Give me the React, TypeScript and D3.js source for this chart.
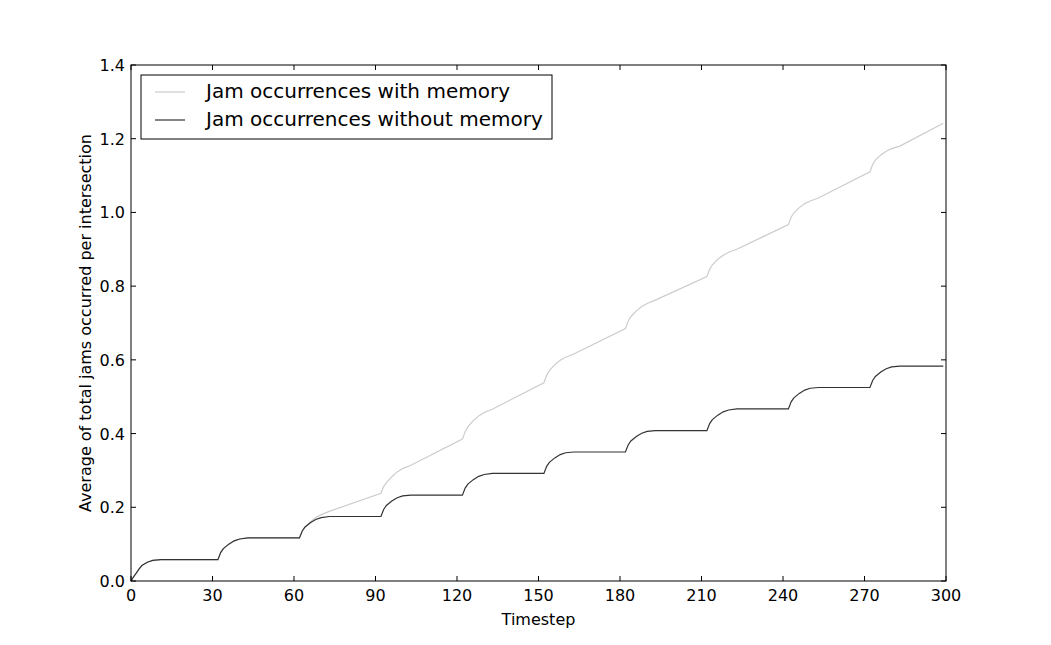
import * as d3 from 'd3';

const X_TICKS = [0, 30, 60, 90, 120, 150, 180, 210, 240, 270, 300];
const Y_TICKS = [0, 0.2, 0.4, 0.6, 0.8, 1.0, 1.2, 1.4];

const FIRST_STEP: [number, number][] = [
  [0, 0], [1, 0.012], [2, 0.022], [3, 0.033], [4, 0.042], [6, 0.051], [8, 0.056], [11, 0.058],
  [32, 0.058], [33, 0.077], [34, 0.088], [36, 0.1], [38, 0.109], [40, 0.114], [43, 0.117], [62, 0.117],
];

const withoutMemory: [number, number][] = [
  ...FIRST_STEP,
  [63, 0.135], [64, 0.146], [66, 0.158], [68, 0.167], [70, 0.172], [73, 0.175], [92, 0.175],
  [93, 0.194], [94, 0.205], [96, 0.217], [98, 0.226], [100, 0.231], [103, 0.233], [122, 0.233],
  [123, 0.252], [124, 0.263], [126, 0.275], [128, 0.284], [130, 0.289], [133, 0.292], [152, 0.292],
  [153, 0.311], [154, 0.322], [156, 0.334], [158, 0.343], [160, 0.348], [163, 0.35], [182, 0.35],
  [183, 0.369], [184, 0.38], [186, 0.392], [188, 0.401], [190, 0.406], [193, 0.408], [212, 0.408],
  [213, 0.427], [214, 0.438], [216, 0.45], [218, 0.459], [220, 0.464], [223, 0.467], [242, 0.467],
  [243, 0.486], [244, 0.497], [246, 0.509], [248, 0.518], [250, 0.523], [253, 0.525], [272, 0.525],
  [273, 0.544], [274, 0.555], [276, 0.567], [278, 0.576], [280, 0.581], [283, 0.583], [299, 0.583],
];

const withMemory: [number, number][] = [
  ...FIRST_STEP,
  [63, 0.135], [64, 0.146], [66, 0.16], [68, 0.172], [70, 0.18], [73, 0.189], [92, 0.238],
  [93, 0.256], [94, 0.267], [96, 0.283], [98, 0.296], [100, 0.305], [103, 0.314], [122, 0.385],
  [123, 0.405], [124, 0.418], [126, 0.435], [128, 0.448], [130, 0.457], [133, 0.466], [152, 0.538],
  [153, 0.558], [154, 0.571], [156, 0.587], [158, 0.599], [160, 0.607], [163, 0.616], [182, 0.685],
  [183, 0.705], [184, 0.717], [186, 0.733], [188, 0.745], [190, 0.753], [193, 0.762], [212, 0.826],
  [213, 0.846], [214, 0.858], [216, 0.873], [218, 0.884], [220, 0.892], [223, 0.9], [242, 0.967],
  [243, 0.987], [244, 0.999], [246, 1.013], [248, 1.024], [250, 1.031], [253, 1.039], [272, 1.11],
  [273, 1.13], [274, 1.142], [276, 1.156], [278, 1.166], [280, 1.173], [283, 1.18], [299, 1.242],
];

const SERIES = [
  { name: 'Jam occurrences with memory', color: '#cccccc', data: withMemory },
  { name: 'Jam occurrences without memory', color: '#333333', data: withoutMemory },
];

const L = 131, R = 946, T = 65, B = 581;
const FONT = 'DejaVu Sans, sans-serif';

export default function App() {
  const x = d3.scaleLinear().domain([0, 300]).range([L, R]);
  const y = d3.scaleLinear().domain([0, 1.4]).range([B, T]);
  const line = d3.line<[number, number]>().x((d) => x(d[0])).y((d) => y(d[1])).curve(d3.curveLinear);

  return (
    <svg width={1051} height={645} style={{ position: 'absolute', left: 0, top: 0, background: '#fff' }} fontFamily={FONT}>
      {SERIES.map((s) => (
        <path key={s.name} d={line(s.data) ?? ''} fill="none" stroke={s.color} strokeWidth={1.2} />
      ))}
      <rect x={L} y={T} width={R - L} height={B - T} fill="none" stroke="#000" strokeWidth={1} />
      {X_TICKS.map((t) => (
        <g key={t}>
          <line x1={x(t)} x2={x(t)} y1={B} y2={B - 5} stroke="#000" />
          <line x1={x(t)} x2={x(t)} y1={T} y2={T + 5} stroke="#000" />
          <text x={x(t)} y={B + 20} textAnchor="middle" fontSize={16}>{t}</text>
        </g>
      ))}
      {Y_TICKS.map((t) => (
        <g key={t}>
          <line x1={L} x2={L + 5} y1={y(t)} y2={y(t)} stroke="#000" />
          <line x1={R} x2={R - 5} y1={y(t)} y2={y(t)} stroke="#000" />
          <text x={L - 6} y={y(t) + 6} textAnchor="end" fontSize={16}>{t.toFixed(1)}</text>
        </g>
      ))}
      <text x={(L + R) / 2} y={625} textAnchor="middle" fontSize={16}>Timestep</text>
      <text transform={`translate(91,${(T + B) / 2}) rotate(-90)`} textAnchor="middle" fontSize={16}>
        Average of total jams occurred per intersection
      </text>
      <rect x={141} y={75} width={411} height={64} fill="#fff" stroke="#000" />
      {SERIES.map((s, i) => (
        <g key={s.name}>
          <line x1={155} x2={185} y1={92 + i * 28} y2={92 + i * 28} stroke={s.color} strokeWidth={1.2} />
          <text x={206} y={98 + i * 28} fontSize={20}>{s.name}</text>
        </g>
      ))}
    </svg>
  );
}
